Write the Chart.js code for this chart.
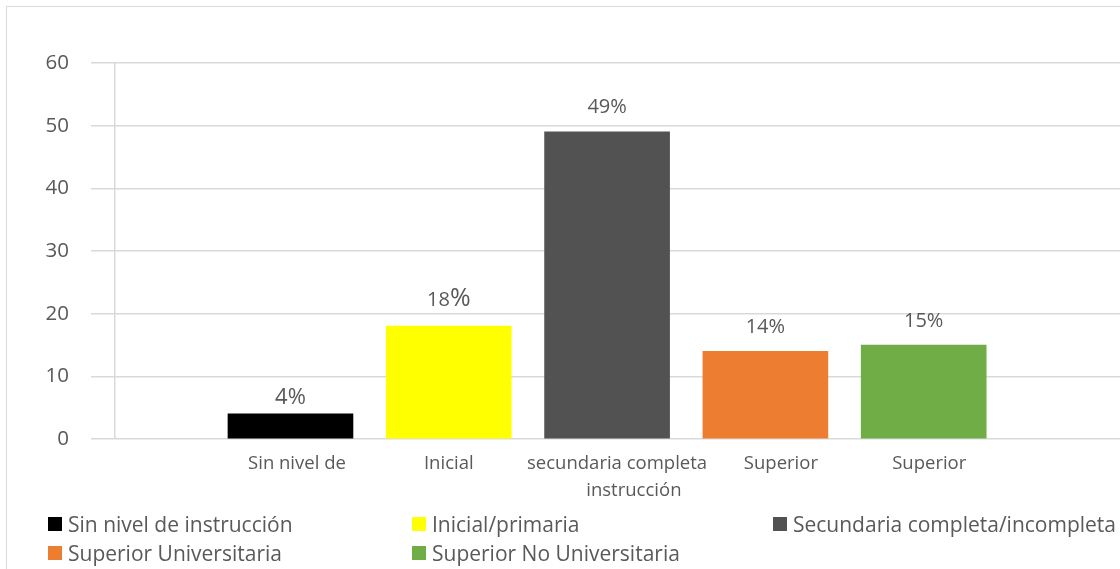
<!DOCTYPE html>
<html>
<head>
<meta charset="utf-8">
<script src="https://cdn.jsdelivr.net/npm/chart.js@4/dist/chart.umd.min.js"></script>
<style>
    html, body { margin: 0; padding: 0; background: #fff; }
    #wrap { position: relative; width: 1120px; height: 569px; overflow: hidden; font-family: "Open Sans", "Noto Sans", sans-serif; }
    #frame { position: absolute; left: 6px; top: 6px; width: 1300px; height: 700px; border: 1px solid #d9d9d9; box-sizing: border-box; }
    #chart { position: absolute; left: 0; top: 0; }
    #legend { position: absolute; left: 48px; top: 510px; display: grid; grid-template-columns: 364px 361px 420px; grid-auto-rows: 28.5px; }
    #legend .item { display: flex; align-items: center; font-size: 21px; color: #595959; white-space: nowrap; }
    #legend .sw { width: 14px; height: 14px; margin-right: 6px; flex: none; }
</style>
</head>
<body>
<div id="wrap">
    <div id="frame"></div>
    <canvas id="chart" width="1120" height="569"></canvas>
    <div id="legend"></div>
</div>
<script>
(function(){
    'use strict';

    // axis labels as they show under the bars
    var tickLabels = [
        ['Sin nivel de'],
        ['Inicial'],
        ['secundaria completa', '       instrucción'],
        ['Superior'],
        ['Superior']
    ];
    var legendNames = [
        'Sin nivel de instrucción',
        'Inicial/primaria',
        'Secundaria completa/incompleta',
        'Superior Universitaria',
        'Superior No Universitaria'
    ];
    var values = [4, 18, 49, 14, 15];
    var yTicks = [0, 10, 20, 30, 40, 50, 60];
    var colors = ['#000000', '#ffff00', '#525252', '#ed7d31', '#70ad47'];

    var textColor = '#595959';
    var gridColor = '#d9d9d9';
    var fontFamily = '"Open Sans", "Noto Sans", sans-serif';
    var axisMark = -1.11;
    // wrapped labels sit a little right of their bar
    var labelNudge = [0.041, 0, 0.063, 0.098, 0.035];

    // legend: three columns, filled row by row
    var legend = document.getElementById('legend');
    legendNames.forEach(function(name, i){
        var item = document.createElement('div');
        item.className = 'item';
        var sw = document.createElement('span');
        sw.className = 'sw';
        sw.style.background = colors[i];
        item.appendChild(sw);
        item.appendChild(document.createTextNode(name));
        legend.appendChild(item);
    });

    // percent labels above each bar
    var valueLabels = {
        id: 'valueLabels',
        afterDatasetsDraw: function(chart, args, opts){
            var ctx = chart.ctx;
            var meta = chart.getDatasetMeta(0);
            ctx.save();
            ctx.fillStyle = textColor;
            ctx.textBaseline = 'alphabetic';
            ctx.textAlign = 'left';
            meta.data.forEach(function(bar, i){
                var num = String(values[i]);
                var size = opts.sizes[i];
                var pct = opts.pctSizes[i];
                ctx.font = size + 'px ' + fontFamily;
                var wNum = ctx.measureText(num).width;
                ctx.font = pct + 'px ' + fontFamily;
                var wPct = ctx.measureText('%').width;
                var x0 = bar.x - (wNum + wPct) / 2;
                var y = bar.y - opts.gaps[i];
                ctx.font = size + 'px ' + fontFamily;
                ctx.fillText(num, x0, y);
                ctx.font = pct + 'px ' + fontFamily;
                ctx.fillText('%', x0 + wNum, y);
            });
            ctx.restore();
        }
    };

    var canvas = document.getElementById('chart');
    new Chart(canvas, {
        type: 'bar',
        data: {
            datasets: [{
                data: values.map(function(v, i){ return { x: i, y: v }; }),
                backgroundColor: colors,
                borderWidth: 0,
                barThickness: 125
            }]
        },
        options: {
            responsive: false,
            animation: false,
            events: [],
            layout: { padding: { top: 63, left: 0, right: 0, bottom: 0 } },
            plugins: {
                legend: { display: false },
                tooltip: { enabled: false },
                valueLabels: {
                    sizes: [22, 20, 20, 20, 20],
                    pctSizes: [22, 25, 20, 20, 20],
                    gaps: [10, 20, 19, 18, 18]
                }
            },
            scales: {
                x: {
                    type: 'linear',
                    offset: false,
                    bounds: 'data',
                    min: -1.26,
                    max: 5.24,
                    afterBuildTicks: function(scale){
                        var ticks = [{ value: axisMark, label: -1 }];
                        tickLabels.forEach(function(l, i){
                            ticks.push({ value: i + labelNudge[i], label: i });
                        });
                        scale.ticks = ticks;
                    },
                    afterFit: function(scale){ scale.height = 130; },
                    grid: {
                        drawTicks: false,
                        offset: false,
                        lineWidth: 1.5,
                        color: function(c){
                            return c.tick && c.tick.value === axisMark ? gridColor : 'rgba(0,0,0,0)';
                        }
                    },
                    border: { display: false },
                    ticks: {
                        autoSkip: false,
                        maxRotation: 0,
                        minRotation: 0,
                        padding: 11,
                        color: textColor,
                        font: { family: fontFamily, size: 18.5, lineHeight: 1.45 },
                        callback: function(v, idx){
                            return idx > 0 ? tickLabels[idx - 1] : '';
                        }
                    }
                },
                y: {
                    min: 0,
                    max: 60,
                    afterBuildTicks: function(scale){
                        scale.ticks = yTicks.map(function(v){ return { value: v }; });
                    },
                    afterFit: function(scale){ scale.width = 91; },
                    grid: { drawTicks: false, color: gridColor, lineWidth: 1.5 },
                    border: { display: false },
                    ticks: {
                        padding: 22,
                        color: textColor,
                        font: { family: fontFamily, size: 20.5 }
                    }
                }
            }
        },
        plugins: [valueLabels]
    });

}());
</script>
</body>
</html>
